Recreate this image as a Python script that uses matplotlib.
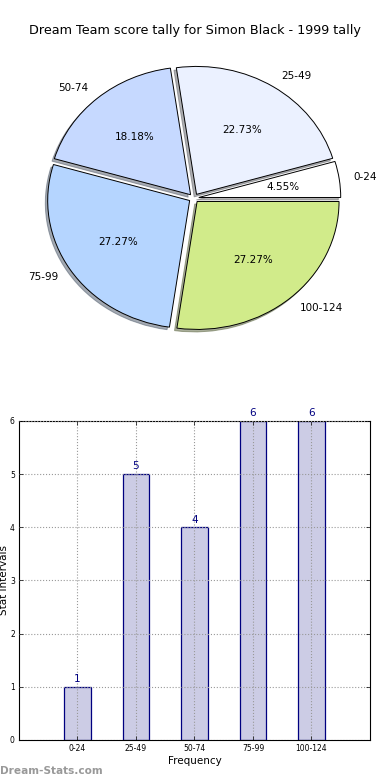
import matplotlib
matplotlib.use("Agg")
import matplotlib.pyplot as plt
import numpy as np

categories = ["0-24", "25-49", "50-74", "75-99", "100-124"]
counts = [1, 5, 4, 6, 6]
pie_colors = ["#ffffff", "#ebf1ff", "#c6d9ff", "#b5d5ff", "#d1eb8a"]
title = "Dream Team score tally for Simon Black - 1999 tally"

fig = plt.figure(figsize=(3.9, 7.8), dpi=100)

# ---- Pie ----
axp = fig.add_axes([0.042, 0.541, 0.910, 0.410])
wedges, texts, autotexts = axp.pie(
    counts, labels=categories, colors=pie_colors, autopct="%.2f%%",
    explode=[0.035] * len(counts),
    shadow=dict(ox=-0.012, oy=-0.014, shade=0.6), startangle=0,
    wedgeprops=dict(edgecolor="black", linewidth=0.7),
    textprops=dict(fontsize=7.5))
axp.set_aspect("auto")
axp.set_xlim(-1.25, 1.25)
axp.set_ylim(-1.25, 1.25)
fig.text(0.5, 0.961, title, ha="center", va="center", fontsize=9.2)

# ---- Bars ----
axb = fig.add_axes([0.0487, 0.0513, 0.900, 0.409])
x = np.arange(len(categories))
axb.bar(x, counts, width=0.45, color=(0, 0, 0.5, 0.2), edgecolor="navy",
        linewidth=0.9, zorder=1)
for xi, c in zip(x, counts):
    axb.text(xi, c + 0.05, str(c), ha="center", va="bottom", color="navy",
             fontsize=7.5)
axb.set_xlim(-1, 5)
axb.set_ylim(0, 6)
axb.set_xticks(x)
axb.set_xticklabels(categories)
axb.set_yticks(range(7))
axb.tick_params(labelsize=5.5, direction="in", length=3, width=0.5,
                top=True, right=True, pad=3)
axb.grid(True, linestyle=":", color="#999999", linewidth=0.8, zorder=3)
axb.set_axisbelow(False)
axb.set_xlabel("Frequency", fontsize=7.5, labelpad=2)
axb.set_ylabel("Stat Intervals", fontsize=7.5)
axb.yaxis.set_label_coords(-0.028, 0.5)
for s in axb.spines.values():
    s.set_linewidth(0.8)

fig.text(0.0, 0.005, "Dream-Stats.com", ha="left", va="bottom",
         fontsize=7.6, color="#999999", fontweight="bold")

fig.savefig("out.png", dpi=100)
